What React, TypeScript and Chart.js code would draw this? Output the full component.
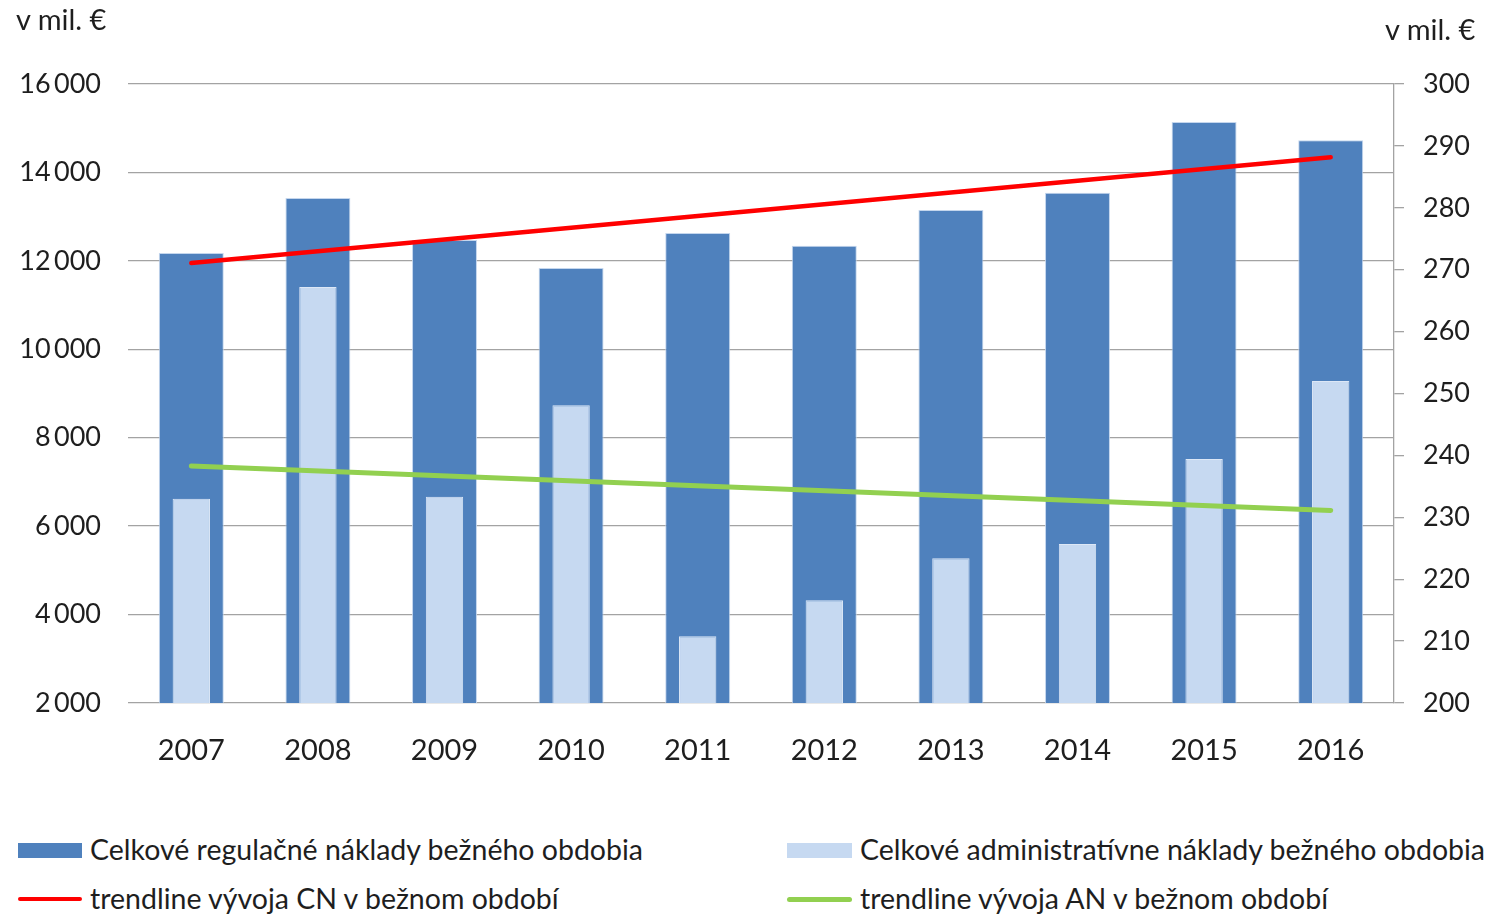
import { useEffect, useRef } from "react";
import { Chart, registerables } from "chart.js";

Chart.register(...registerables);

const years = ["2007", "2008", "2009", "2010", "2011", "2012", "2013", "2014", "2015", "2016"];
const regulatoryCosts = [12180, 13420, 12470, 11840, 12630, 12340, 13150, 13540, 15140, 14730];
const adminCosts = [233.0, 267.2, 233.3, 248.1, 210.8, 216.6, 223.4, 225.7, 239.4, 252.0];
const cnTrend = [11950, null, null, null, null, null, null, null, null, 14345];
const anTrend = [238.3, null, null, null, null, null, null, null, null, 231.1];
const leftTicks = [2000, 4000, 6000, 8000, 10000, 12000, 14000, 16000];
const rightTicks = [200, 210, 220, 230, 240, 250, 260, 270, 280, 290, 300];

const labelRegulatory = "Celkové regulačné náklady bežného obdobia";
const labelAdmin = "Celkové administratívne náklady bežného obdobia";
const labelCnTrend = "trendline vývoja CN v bežnom období";
const labelAnTrend = "trendline vývoja AN v bežnom období";
const unitLabel = "v mil. €";

const FONT = "Lato, 'Open Sans', sans-serif";
const TEXT = "#1e1e1e";
const GRID = "#a3a3a3";

function fmt(v: number): string {
  return String(v).replace(/\B(?=(\d{3})+(?!\d))/g, "\u2009");
}

export default function App() {
  const ref = useRef<HTMLCanvasElement | null>(null);

  useEffect(() => {
    if (!ref.current) return;
    const chart = new Chart(ref.current, {
      type: "bar",
      data: {
        labels: years,
        datasets: [
          {
            type: "line",
            label: labelCnTrend,
            data: cnTrend,
            yAxisID: "y",
            borderColor: "#FF0000",
            borderWidth: 4.5,
            pointRadius: 0,
            spanGaps: true,
            borderCapStyle: "round",
            order: 0,
          } as any,
          {
            type: "line",
            label: labelAnTrend,
            data: anTrend,
            yAxisID: "y2",
            borderColor: "#92D050",
            borderWidth: 5,
            pointRadius: 0,
            spanGaps: true,
            borderCapStyle: "round",
            order: 1,
          } as any,
          {
            label: labelAdmin,
            data: adminCosts,
            yAxisID: "y2",
            backgroundColor: "#C6D9F1",
            borderColor: "rgba(235,242,252,0.9)",
            borderWidth: 1,
            grouped: false,
            categoryPercentage: 1,
            barPercentage: 0.295,
            order: 2,
          } as any,
          {
            label: labelRegulatory,
            data: regulatoryCosts,
            yAxisID: "y",
            backgroundColor: "#4F81BD",
            borderColor: "rgba(190,210,235,0.9)",
            borderWidth: 1,
            grouped: false,
            categoryPercentage: 1,
            barPercentage: 0.513,
            order: 3,
          } as any,
        ],
      },
      options: {
        animation: false,
        responsive: false,
        layout: { padding: { top: 84, left: 0, right: 0, bottom: 0 } },
        plugins: {
          legend: { display: false },
          tooltip: { enabled: false },
        },
        scales: {
          x: {
            grid: { display: false },
            border: { display: false },
            ticks: {
              font: { family: FONT, size: 29 },
              color: TEXT,
              padding: 22,
              maxRotation: 0,
              autoSkip: false,
            },
            afterFit: (s: any) => {
              s.height = 97;
            },
          },
          y: {
            position: "left",
            min: 2000,
            max: 16000,
            afterBuildTicks: (s: any) => {
              s.ticks = leftTicks.map((v) => ({ value: v }));
            },
            ticks: {
              font: { family: FONT, size: 27 },
              color: TEXT,
              padding: 27,
              callback: (v: any) => fmt(Number(v)),
            },
            grid: { color: GRID, lineWidth: 1.3, drawTicks: false },
            border: { display: false },
            afterFit: (s: any) => {
              s.width = 128;
            },
          },
          y2: {
            position: "right",
            min: 200,
            max: 300,
            afterBuildTicks: (s: any) => {
              s.ticks = rightTicks.map((v) => ({ value: v }));
            },
            ticks: {
              font: { family: FONT, size: 27 },
              color: TEXT,
              padding: 19,
              callback: (v: any) => String(v),
            },
            grid: {
              drawOnChartArea: false,
              drawTicks: true,
              tickLength: 10,
              color: GRID,
              lineWidth: 1.3,
            },
            border: { display: true, color: GRID, width: 1.3 },
            afterFit: (s: any) => {
              s.width = 99;
            },
          },
        },
      } as any,
    });
    return () => chart.destroy();
  }, []);

  const textStyle: React.CSSProperties = {
    position: "absolute",
    fontFamily: FONT,
    fontSize: 28.5,
    lineHeight: "32px",
    color: TEXT,
    whiteSpace: "nowrap",
  };

  return (
    <div
      style={{
        position: "fixed",
        left: 0,
        top: 0,
        width: 1493,
        height: 915,
        background: "#fff",
        overflow: "hidden",
      }}
    >
      <canvas ref={ref} width={1493} height={800} style={{ display: "block" }} />
      <div style={{ ...textStyle, fontSize: 29, left: 16, top: 3 }}>{unitLabel}</div>
      <div style={{ ...textStyle, fontSize: 29, left: 1385, top: 13 }}>{unitLabel}</div>

      <div style={{ position: "absolute", left: 18, top: 843, width: 64, height: 15, background: "#4F81BD" }} />
      <div style={{ ...textStyle, left: 90, top: 833 }}>{labelRegulatory}</div>

      <div style={{ position: "absolute", left: 787, top: 843, width: 65, height: 15, background: "#C6D9F1" }} />
      <div style={{ ...textStyle, left: 860, top: 833 }}>{labelAdmin}</div>

      <div style={{ position: "absolute", left: 18, top: 897, width: 64, height: 4, background: "#FF0000", borderRadius: 2 }} />
      <div style={{ ...textStyle, left: 90, top: 882 }}>{labelCnTrend}</div>

      <div style={{ position: "absolute", left: 787, top: 897, width: 65, height: 5, background: "#92D050", borderRadius: 3 }} />
      <div style={{ ...textStyle, left: 860, top: 882 }}>{labelAnTrend}</div>
    </div>
  );
}
